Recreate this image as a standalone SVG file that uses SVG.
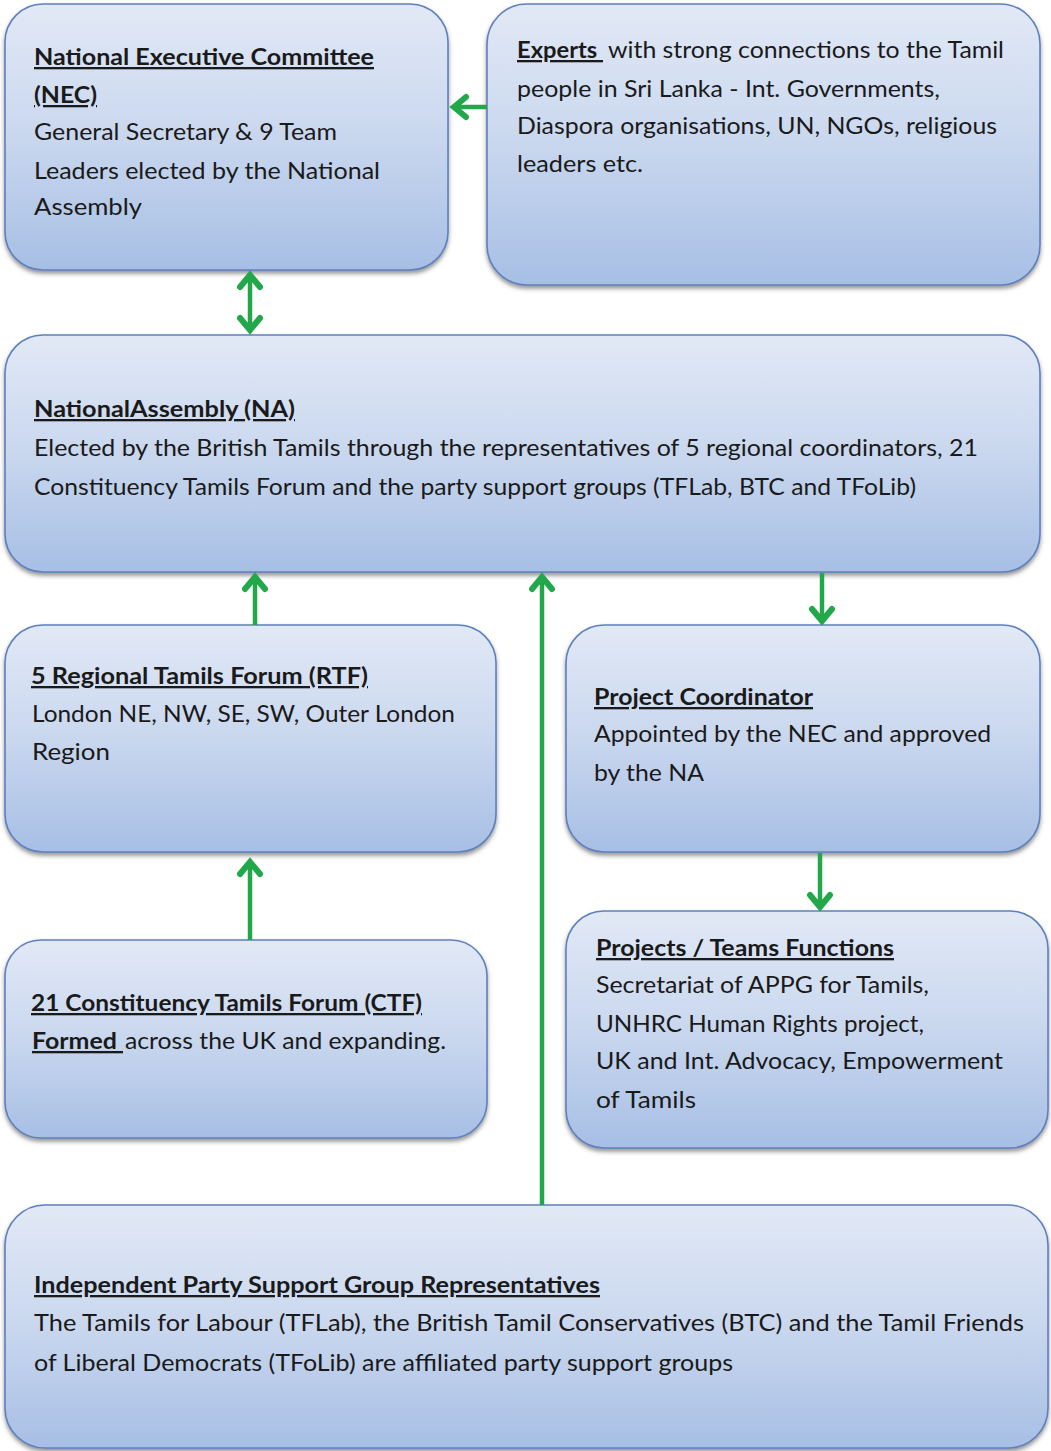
<svg xmlns="http://www.w3.org/2000/svg" width="1051" height="1451" viewBox="0 0 1051 1451">
<defs>
  <linearGradient id="boxGrad" x1="0" y1="0" x2="0" y2="1">
    <stop offset="0" stop-color="#e2e9f6"/>
    <stop offset="0.5" stop-color="#c9d7ee"/>
    <stop offset="1" stop-color="#a7bfe5"/>
  </linearGradient>
  <filter id="shadow" x="-5%" y="-5%" width="110%" height="115%">
    <feDropShadow dx="0" dy="3" stdDeviation="2" flood-color="#404040" flood-opacity="0.55"/>
  </filter>
  <marker id="arrow" viewBox="-20 -15 25 30" refX="0" refY="0" markerWidth="25" markerHeight="30" markerUnits="userSpaceOnUse" orient="auto-start-reverse">
    <path d="M-12,-10 L0,0 L-12,10" fill="none" stroke="#22a84a" stroke-width="6" stroke-linecap="round" stroke-linejoin="miter"/>
  </marker>
</defs>
<style>
  .box { fill: url(#boxGrad); stroke: #5f80bd; stroke-width: 1.6; filter: url(#shadow); }
  .t { font-family: Lato, "Open Sans", "Liberation Sans", sans-serif; font-size: 23px; fill: #1a1a1a; }
  .h { font-weight: bold; text-decoration: underline; }
  .conn { stroke: #22a84a; stroke-width: 4.5; fill: none; }
</style>
<rect width="1051" height="1451" fill="#ffffff"/>

<g id="nec">
  <rect class="box" x="5" y="4" width="443" height="266" rx="38"/>
  <text class="t h" x="34" y="65" textLength="340" lengthAdjust="spacingAndGlyphs">National Executive Committee</text>
  <text class="t h" x="34" y="103" textLength="63" lengthAdjust="spacingAndGlyphs">(NEC)</text>
  <text class="t" x="34" y="140" textLength="303" lengthAdjust="spacingAndGlyphs">General Secretary &amp; 9 Team</text>
  <text class="t" x="34" y="179" textLength="346" lengthAdjust="spacingAndGlyphs">Leaders elected by the National</text>
  <text class="t" x="34" y="215" textLength="108" lengthAdjust="spacingAndGlyphs">Assembly</text>
</g>

<g id="experts">
  <rect class="box" x="487" y="4" width="553" height="281" rx="40"/>
  <text class="t h" x="517" y="58" textLength="86" lengthAdjust="spacingAndGlyphs">Experts&#160;</text>
  <text class="t" x="608" y="58" textLength="396" lengthAdjust="spacingAndGlyphs">with strong connections to the Tamil</text>
  <text class="t" x="517" y="97" textLength="423" lengthAdjust="spacingAndGlyphs">people in Sri Lanka - Int. Governments,</text>
  <text class="t" x="517" y="134" textLength="480" lengthAdjust="spacingAndGlyphs">Diaspora organisations, UN, NGOs, religious</text>
  <text class="t" x="517" y="172" textLength="126" lengthAdjust="spacingAndGlyphs">leaders etc.</text>
</g>

<g id="na">
  <rect class="box" x="5" y="335" width="1035" height="237" rx="38"/>
  <text class="t h" x="34" y="417" textLength="261" lengthAdjust="spacingAndGlyphs">NationalAssembly (NA)</text>
  <text class="t" x="34" y="456" textLength="944" lengthAdjust="spacingAndGlyphs">Elected by the British Tamils through the representatives of 5 regional coordinators, 21</text>
  <text class="t" x="34" y="495" textLength="882" lengthAdjust="spacingAndGlyphs">Constituency Tamils Forum and the party support groups (TFLab, BTC and TFoLib)</text>
</g>

<g id="rtf">
  <rect class="box" x="5" y="625" width="491" height="227" rx="38"/>
  <text class="t h" x="31" y="684" textLength="337" lengthAdjust="spacingAndGlyphs">5 Regional Tamils Forum (RTF)</text>
  <text class="t" x="32" y="722" textLength="423" lengthAdjust="spacingAndGlyphs">London NE, NW, SE, SW, Outer London</text>
  <text class="t" x="32" y="760" textLength="78" lengthAdjust="spacingAndGlyphs">Region</text>
</g>

<g id="pc">
  <rect class="box" x="566" y="625" width="474" height="227" rx="38"/>
  <text class="t h" x="594" y="705" textLength="219" lengthAdjust="spacingAndGlyphs">Project Coordinator</text>
  <text class="t" x="594" y="742" textLength="397" lengthAdjust="spacingAndGlyphs">Appointed by the NEC and approved</text>
  <text class="t" x="594" y="781" textLength="110" lengthAdjust="spacingAndGlyphs">by the NA</text>
</g>

<g id="ctf">
  <rect class="box" x="5" y="940" width="482" height="198" rx="36"/>
  <text class="t h" x="31" y="1011" textLength="391" lengthAdjust="spacingAndGlyphs">21 Constituency Tamils Forum (CTF)</text>
  <text class="t h" x="32" y="1049" textLength="91" lengthAdjust="spacingAndGlyphs">Formed&#160;</text>
  <text class="t" x="125" y="1049" textLength="321" lengthAdjust="spacingAndGlyphs">across the UK and expanding.</text>
</g>

<g id="projects">
  <rect class="box" x="566" y="911" width="482" height="237" rx="38"/>
  <text class="t h" x="596" y="956" textLength="298" lengthAdjust="spacingAndGlyphs">Projects / Teams Functions</text>
  <text class="t" x="596" y="993" textLength="333" lengthAdjust="spacingAndGlyphs">Secretariat of APPG for Tamils,</text>
  <text class="t" x="596" y="1032" textLength="328" lengthAdjust="spacingAndGlyphs">UNHRC Human Rights project,</text>
  <text class="t" x="596" y="1069" textLength="407" lengthAdjust="spacingAndGlyphs">UK and Int. Advocacy, Empowerment</text>
  <text class="t" x="596" y="1108" textLength="100" lengthAdjust="spacingAndGlyphs">of Tamils</text>
</g>

<g id="ipsg">
  <rect class="box" x="5" y="1205" width="1043" height="243" rx="40"/>
  <text class="t h" x="34" y="1293" textLength="566" lengthAdjust="spacingAndGlyphs">Independent Party Support Group Representatives</text>
  <text class="t" x="34" y="1331" textLength="990" lengthAdjust="spacingAndGlyphs">The Tamils for Labour (TFLab), the British Tamil Conservatives (BTC) and the Tamil Friends</text>
  <text class="t" x="34" y="1371" textLength="699" lengthAdjust="spacingAndGlyphs">of Liberal Democrats (TFoLib) are affiliated party support groups</text>
</g>

<g id="connectors">
  <line class="conn" x1="487" y1="107" x2="454" y2="107" marker-end="url(#arrow)"/>
  <line class="conn" x1="250" y1="275" x2="250" y2="330" marker-start="url(#arrow)" marker-end="url(#arrow)"/>
  <line class="conn" x1="255" y1="625" x2="255" y2="577" marker-end="url(#arrow)"/>
  <line class="conn" x1="542" y1="1205" x2="542" y2="577" marker-end="url(#arrow)"/>
  <line class="conn" x1="822" y1="573" x2="822" y2="621" marker-end="url(#arrow)"/>
  <line class="conn" x1="250" y1="940" x2="250" y2="862" marker-end="url(#arrow)"/>
  <line class="conn" x1="820" y1="853" x2="820" y2="907" marker-end="url(#arrow)"/>
</g>
</svg>
